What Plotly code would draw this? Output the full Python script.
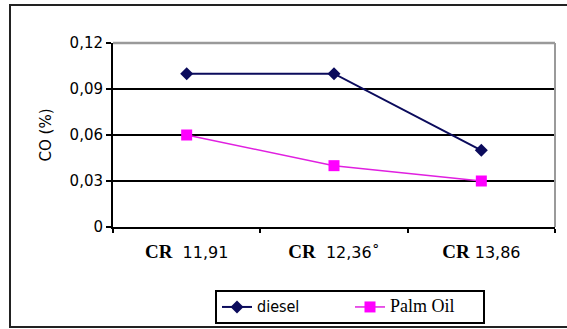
import plotly.graph_objects as go

# Compression ratios and CO emissions (%)
categories = ["CR 11,91", "CR 12,36*", "CR 13,86"]
tick_labels = [("CR", "&nbsp;&nbsp;11,91"), ("CR", "&nbsp;&nbsp;12,36˚"), ("CR", "&nbsp;13,86")]
diesel = [0.10, 0.10, 0.05]
palm_oil = [0.06, 0.04, 0.03]
y_ticks = [0, 0.03, 0.06, 0.09, 0.12]
y_tick_labels = ["0", "0,03", "0,06", "0,09", "0,12"]

W, H = 567, 329
L, R, T, B = 113, 12, 43, 102
pw, ph = W - L - R, H - T - B


def px_x(x):
    return (x - L) / pw


def px_y(y):
    return (H - B - y) / ph


cr_labels = [
    '%s<span style="font-family:DejaVu Sans;font-weight:normal;font-size:16px">%s</span>' % (head, tail)
    for head, tail in tick_labels
]

fig = go.Figure()
fig.add_trace(go.Scatter(
    x=categories, y=diesel, mode="lines+markers",
    name="<span style='font-family:DejaVu Sans Condensed;font-size:16px'>diesel</span>",
    line=dict(color="#0b0b5c", width=2),
    marker=dict(symbol="diamond", size=10, color="#0b0b5c"),
))
fig.add_trace(go.Scatter(
    x=categories, y=palm_oil, mode="lines+markers",
    name="<span style='font-family:Liberation Serif;font-size:18px'>Palm Oil</span>",
    line=dict(color="#e020e0", width=1.5),
    marker=dict(symbol="square", size=11, color="#ff00ff"),
))

fig.update_layout(
    width=W, height=H,
    margin=dict(l=L, r=R, t=T, b=B, autoexpand=False),
    paper_bgcolor="white", plot_bgcolor="white",
    font=dict(family="DejaVu Sans", size=15, color="black"),
    showlegend=True,
    legend=dict(
        orientation="h", x=px_x(350), xanchor="center",
        y=px_y(290), yanchor="top",
        bordercolor="black", borderwidth=2,
        font=dict(family="Liberation Serif", size=13),
        entrywidth=88, tracegroupgap=0,
    ),
    xaxis=dict(
        type="category", range=[-0.5, 2.5], automargin=False,
        tickvals=categories, ticktext=cr_labels,
        tickson="boundaries", ticks="outside", ticklen=4, tickcolor="black", tickwidth=1.5,
        showline=True, linecolor="black", linewidth=2,
        showgrid=False, ticklabelstandoff=6,
        tickfont=dict(family="Liberation Serif", size=19, weight="bold"),
    ),
    yaxis=dict(
        range=[0, 0.12], tickvals=y_ticks, ticktext=y_tick_labels, automargin=False,
        ticks="outside", ticklen=5, tickcolor="black", tickwidth=1.5,
        showline=True, linecolor="black", linewidth=2,
        showgrid=True, gridcolor="black", gridwidth=1.6,
        zeroline=False,
        tickfont=dict(family="DejaVu Sans", size=15),
        title=dict(text="CO (%)", font=dict(family="DejaVu Sans", size=15), standoff=14),
    ),
    shapes=[
        # grey frame on top and right of the plot area
        dict(type="line", xref="paper", yref="paper", x0=0, x1=1, y0=1, y1=1,
             line=dict(color="#9a9a9a", width=2.5), layer="above"),
        dict(type="line", xref="paper", yref="paper", x0=1, x1=1, y0=0, y1=1,
             line=dict(color="#9a9a9a", width=2), layer="above"),
        # outer chart border
        dict(type="rect", xref="paper", yref="paper",
             x0=px_x(10), x1=px_x(575), y0=px_y(327), y1=px_y(5),
             line=dict(color="#222222", width=2), layer="below"),
    ],
)

fig.write_html("out.html")
